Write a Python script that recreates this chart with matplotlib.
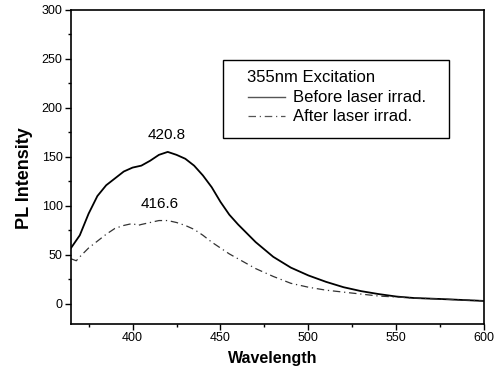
import matplotlib
matplotlib.use("Agg")
import matplotlib.pyplot as plt
from matplotlib.ticker import MultipleLocator
from matplotlib.patches import Rectangle
from matplotlib.lines import Line2D

plt.rcParams['font.family'] = ['Liberation Sans', 'DejaVu Sans']

wl_before = [365, 370, 375, 380, 385, 390, 395, 400, 405, 410, 415, 420, 425, 430,
             435, 440, 445, 450, 455, 460, 470, 480, 490, 500, 510, 520, 530, 540,
             550, 560, 575, 600]
pl_before = [57, 70, 92, 110, 121, 128, 135, 139, 141, 146, 152, 155, 152, 148,
             141, 131, 119, 104, 91, 81, 63, 48, 37, 29, 22.5, 17, 13, 10,
             7.5, 6, 5, 3]

wl_after = [365, 368, 370, 375, 380, 385, 390, 395, 400, 403, 405, 410, 415, 420,
            425, 430, 435, 440, 445, 450, 455, 460, 470, 480, 490, 500, 510, 520,
            530, 540, 550, 560, 575, 600]
pl_after = [46, 44, 48, 57, 64, 71, 77, 80, 82, 80, 81, 83, 85, 85,
            83, 80, 76, 70, 63, 57, 51, 46, 36, 28, 21, 17, 14, 12,
            10, 8, 7, 6, 5, 3]

series_labels = ["Before laser irrad.", "After laser irrad."]
legend_title = "355nm Excitation"
peak_labels = ["420.8", "416.6"]
peak_pos = [(419.4, 172), (415.6, 102)]

W, H = 499, 374
fig = plt.figure(figsize=(W / 100, H / 100), dpi=100)
ax = fig.add_axes([0.1423, 0.1337, 0.8282, 0.8403])

after_style = (0, (6, 3, 1, 3))
l1, = ax.plot(wl_before, pl_before, color='black', lw=1.3, label=series_labels[0])
l2, = ax.plot(wl_after, pl_after, color='#333333', lw=0.9,
              linestyle=after_style, label=series_labels[1])

for t, (x, y) in zip(peak_labels, peak_pos):
    ax.text(x, y, t, ha='center', va='center', fontsize=11)

ax.set_xlim(365, 600)
ax.set_ylim(-20.5, 300)
ax.xaxis.set_major_locator(MultipleLocator(50))
ax.xaxis.set_minor_locator(MultipleLocator(25))
ax.yaxis.set_major_locator(MultipleLocator(50))
ax.yaxis.set_minor_locator(MultipleLocator(25))
ax.set_xticks([400, 450, 500, 550, 600])
ax.tick_params(which='major', direction='out', length=4, width=1, labelsize=9, pad=2)
ax.tick_params(which='minor', direction='out', length=2.5, width=1)
for s in ax.spines.values():
    s.set_linewidth(1.2)

ax.set_xlabel('Wavelength', fontsize=11.5, fontweight='bold')
ax.xaxis.set_label_coords(0.489, -0.085)
ax.set_ylabel('PL Intensity', fontsize=13, fontweight='bold')
ax.yaxis.set_label_coords(-0.093, 0.4645)

# manual legend box (pixel coordinates, origin top-left)
def fx(px):
    return px / W

def fy(py):
    return 1 - py / H

fig.add_artist(Rectangle((fx(223), fy(138)), fx(449) - fx(223), fy(60) - fy(138),
                         transform=fig.transFigure, facecolor='white',
                         edgecolor='black', lw=1.0))
fig.text(fx(247), fy(78), legend_title, fontsize=12, va='center', ha='left')
handle_styles = [('-', '#555555', 1.0), (after_style, '#555555', 0.9)]
for (ls, col, lw), lab, yc in zip(handle_styles, series_labels, [98, 117]):
    fig.add_artist(Line2D([fx(248), fx(285)], [fy(yc - 1), fy(yc - 1)],
                          transform=fig.transFigure, color=col, lw=lw, linestyle=ls))
    fig.text(fx(293), fy(yc), lab, fontsize=12, va='center', ha='left')

fig.savefig('out.png', dpi=100)
